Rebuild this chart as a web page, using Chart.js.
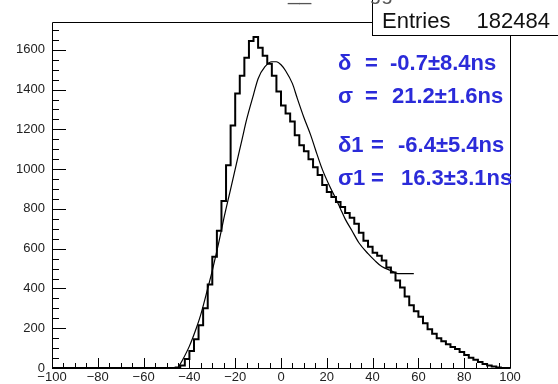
<!DOCTYPE html>
<html lang="en">
<head>
    <meta charset="UTF-8">
    <title>Time difference histogram</title>
    <script src="https://cdn.jsdelivr.net/npm/chart.js"></script>
    <style>
        body { margin: 0; background: #fff; }
        #chart { display: block; }
    </style>
</head>
<body>
    <canvas id="chart" width="558" height="384"></canvas>

    <script>
        // histogram: 2 ns bins from -100 to 100
        const histStart = -100;
        const binWidth = 2;
        const counts = [
            0, 0, 0, 0, 0, 0, 0, 0, 0, 0, 0, 0, 0, 0,
            0, 0, 0, 0, 0, 0, 0, 0, 0, 0, 0, 0, 0, 0,
            3, 12, 45, 85, 145, 215, 300, 420, 560, 690, 840,
            1020, 1220, 1380, 1470, 1560, 1645, 1665, 1610, 1570, 1530, 1470,
            1390, 1320, 1280, 1240, 1170, 1120, 1090, 1050, 1010, 970,
            920, 885, 860, 835, 810, 780, 755, 725, 680, 640,
            610, 580, 565, 540, 505, 480, 440, 405, 360, 315,
            285, 258, 225, 195, 172, 150, 135, 120, 105, 95,
            80, 65, 52, 42, 30, 20, 13, 7, 3, 0
        ];

        // fit curve
        const fitX = [-45, -43, -40, -37, -35, -32, -30, -27, -25, -22, -20, -17, -15, -12, -10, -7, -4, -2, 0, 2,
                      5, 7, 10, 13, 15, 18, 21, 24, 26, 28, 31, 34, 38, 41, 44, 48, 51, 58];
        const fitY = [0, 40, 110, 200, 270, 400, 490, 640, 750, 900, 1000, 1150, 1250, 1375, 1455, 1515, 1540, 1540, 1525, 1495,
                      1430, 1360, 1260, 1170, 1100, 1000, 920, 850, 800, 750, 690, 630, 575, 540, 510, 490, 475, 475];

        const xTicks = { min: -100, max: 100, step: 20, minor: 5 };
        const yTicks = { min: 0, max: 1740, step: 200, minor: 50 };

        const entries = '182484';
        const fitLines = [
            ['\u03b4', '=', '-0.7\u00b18.4ns'],
            ['\u03c3', '=', '21.2\u00b11.6ns'],
            ['\u03b41', '=', '-6.4\u00b15.4ns'],
            ['\u03c31', '=', '16.3\u00b13.1ns']
        ];
        const title = 'Time diff t__0 to trigger time';

        // punkty histogramu na lewych krawedziach binow
        const histPoints = counts.map((c, i) => ({ x: histStart + i * binWidth, y: c }));
        histPoints.push({ x: histStart + counts.length * binWidth, y: counts[counts.length - 1] });
        const fitPoints = fitX.map((x, i) => ({ x: x, y: fitY[i] }));

        const labelFont = { family: 'Liberation Sans', size: 13 };

        const rootFrame = {
            id: 'rootFrame',
            afterDatasetsDraw(chart) {
                const { ctx, chartArea: a, scales: { x, y } } = chart;
                ctx.save();
                ctx.strokeStyle = '#000';
                ctx.lineWidth = 1;
                ctx.beginPath();
                for (let v = yTicks.min; v <= yTicks.max; v += yTicks.minor) {
                    const py = Math.round(y.getPixelForValue(v)) + 0.5;
                    const len = v % yTicks.step === 0 ? 14 : 7;
                    ctx.moveTo(a.left, py);
                    ctx.lineTo(a.left + len, py);
                }
                for (let v = xTicks.min; v <= xTicks.max; v += xTicks.minor) {
                    const px = Math.round(x.getPixelForValue(v)) + 0.5;
                    const len = v % xTicks.step === 0 ? 10 : 5;
                    ctx.moveTo(px, a.bottom);
                    ctx.lineTo(px, a.bottom - len);
                }
                ctx.stroke();

                // ramka
                ctx.beginPath();
                ctx.moveTo(a.left + 0.5, a.top + 0.5);
                ctx.lineTo(a.left + 0.5, a.bottom + 0.5);
                ctx.lineTo(a.right + 0.5, a.bottom + 0.5);
                ctx.lineTo(a.right + 0.5, a.top + 0.5);
                ctx.lineTo(a.left + 0.5, a.top + 0.5);
                ctx.stroke();
                ctx.restore();
            },
            afterDraw(chart) {
                const { ctx } = chart;
                ctx.save();
                // stats box
                ctx.fillStyle = '#fff';
                ctx.fillRect(372.5, -2, 200, 38);
                ctx.strokeStyle = '#000';
                ctx.lineWidth = 1;
                ctx.strokeRect(372.5, -2, 200, 37.5);
                ctx.fillStyle = '#111';
                ctx.font = '22px "Liberation Sans"';
                ctx.textAlign = 'left';
                ctx.fillText('Entries', 382, 28);
                ctx.textAlign = 'right';
                ctx.fillText(entries, 550, 28);

                // tytul (prawie caly poza obrazkiem)
                ctx.textAlign = 'center';
                ctx.fillStyle = '#555';
                ctx.font = '21px "Liberation Sans"';
                ctx.fillText(title, 327, 0);

                // parametry fitu
                ctx.fillStyle = '#2b2bd9';
                ctx.font = 'bold 22px "Liberation Sans"';
                ctx.textAlign = 'left';
                const baselines = [70, 103, 152, 185];
                const eqX = [365, 365, 371, 371];
                const valueX = [390, 392, 398, 401];
                fitLines.forEach((ln, i) => {
                    ctx.fillText(ln[0], 338, baselines[i]);
                    ctx.fillText(ln[1], eqX[i], baselines[i]);
                    ctx.fillText(ln[2], valueX[i], baselines[i]);
                });
                ctx.restore();
            }
        };

        new Chart(document.getElementById('chart').getContext('2d'), {
            type: 'line',
            data: {
                datasets: [{
                    label: 'hist',
                    data: histPoints,
                    borderColor: '#000',
                    borderWidth: 2,
                    stepped: 'after',
                    pointRadius: 0,
                    fill: false
                }, {
                    label: 'fit',
                    data: fitPoints,
                    borderColor: '#000',
                    borderWidth: 1.2,
                    cubicInterpolationMode: 'monotone',
                    pointRadius: 0,
                    fill: false
                }]
            },
            options: {
                responsive: false,
                animation: false,
                devicePixelRatio: 1,
                layout: { padding: { top: 22, right: 48, left: 0, bottom: 0 } },
                plugins: { legend: { display: false }, tooltip: { enabled: false } },
                scales: {
                    x: {
                        type: 'linear',
                        min: xTicks.min,
                        max: xTicks.max,
                        grid: { display: false, drawTicks: false },
                        border: { display: false },
                        ticks: {
                            stepSize: xTicks.step,
                            includeBounds: false,
                            autoSkip: false,
                            maxRotation: 0,
                            padding: 2,
                            color: '#222',
                            font: labelFont,
                            callback: v => v < 0 ? '\u2212' + Math.abs(v) : String(v)
                        },
                        afterFit: s => { s.height = 16; }
                    },
                    y: {
                        min: yTicks.min,
                        max: yTicks.max,
                        grid: { display: false, drawTicks: false },
                        border: { display: false },
                        ticks: {
                            stepSize: yTicks.step,
                            includeBounds: false,
                            padding: 7,
                            color: '#222',
                            font: labelFont,
                            callback: v => String(v)
                        },
                        afterFit: s => { s.width = 52; }
                    }
                }
            },
            plugins: [rootFrame]
        });
    </script>
</body>
</html>
